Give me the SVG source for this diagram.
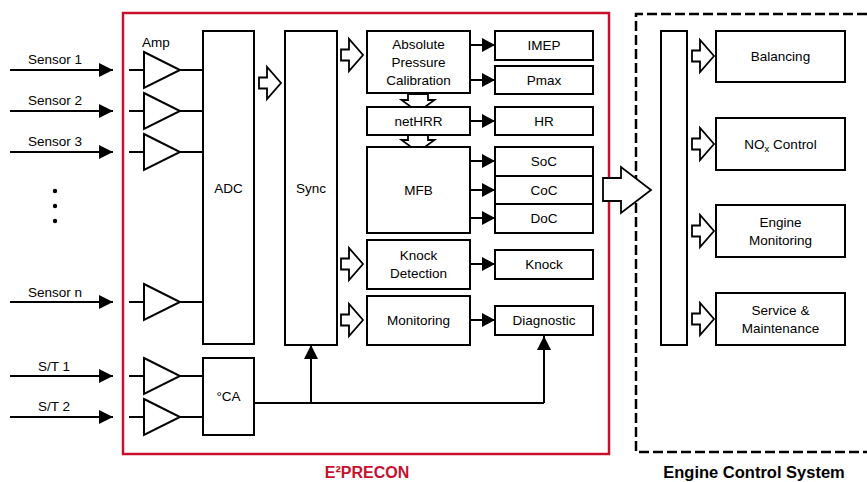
<svg xmlns="http://www.w3.org/2000/svg" width="867" height="482" viewBox="0 0 867 482">
<style>
text{font-family:"Liberation Sans",Arial,sans-serif;font-size:13.5px;fill:#000;text-anchor:middle}
.b{fill:#fff;stroke:#000;stroke-width:2}
.l{fill:none;stroke:#000;stroke-width:2}
.h{fill:#fff;stroke:#000;stroke-width:1.8;stroke-linejoin:miter}
.t{font-weight:bold;font-size:16.5px}
</style>
<defs>
<marker id="ah" viewBox="0 0 14 14" markerWidth="14" markerHeight="14" refX="14" refY="7" markerUnits="userSpaceOnUse" orient="auto"><path d="M0,0 L14,7 L0,14 Z" fill="#000"/></marker>
<marker id="as" viewBox="0 0 13 14" markerWidth="13" markerHeight="14" refX="13" refY="7" markerUnits="userSpaceOnUse" orient="auto"><path d="M0,0 L13,7 L0,14 Z" fill="#000"/></marker>
<path id="hr" d="M0,-5.5 H8 V-16 L22,0 L8,16 V5.5 H0 Z"/>
<path id="hd" d="M-10,0 V6 H-16.5 L0,18 L16.5,6 H10 V0 Z"/>
<path id="amp" d="M144,-18 L180,0 L144,18 Z"/>
</defs>

<!-- frames -->
<rect id="e2precon" x="123" y="13" width="486" height="441" fill="none" stroke="#c8102e" stroke-width="2.5"/>
<path id="ecs" d="M867,14 H636 V452 H867" fill="none" stroke="#000" stroke-width="2.5" stroke-dasharray="10,4"/>
<text x="367" y="478" class="t" style="fill:#c8102e;font-size:16px">E²PRECON</text>
<text x="754" y="478" class="t">Engine Control System</text>

<!-- connectors -->
<g id="connectors">
<g class="l">
<line x1="10" y1="70" x2="113" y2="70" marker-end="url(#ah)"/>
<line x1="10" y1="111" x2="113" y2="111" marker-end="url(#ah)"/>
<line x1="10" y1="152" x2="113" y2="152" marker-end="url(#ah)"/>
<line x1="10" y1="302" x2="113" y2="302" marker-end="url(#ah)"/>
<line x1="10" y1="376" x2="113" y2="376" marker-end="url(#ah)"/>
<line x1="10" y1="417" x2="113" y2="417" marker-end="url(#ah)"/>
<path d="M129,70 H144 M180,70 H203 M129,111 H144 M180,111 H203 M129,152 H144 M180,152 H203 M129,302 H144 M180,302 H203 M129,376 H144 M180,376 H203 M129,417 H144 M180,417 H203"/>
<path d="M254,403 H544"/>
<line x1="311" y1="403" x2="311" y2="345" marker-end="url(#ah)"/>
<line x1="544" y1="403" x2="544" y2="336" marker-end="url(#ah)"/>
<line x1="470" y1="45" x2="495" y2="45" marker-end="url(#as)"/>
<line x1="470" y1="80" x2="495" y2="80" marker-end="url(#as)"/>
<line x1="470" y1="121" x2="495" y2="121" marker-end="url(#as)"/>
<line x1="470" y1="161" x2="495" y2="161" marker-end="url(#as)"/>
<line x1="470" y1="190" x2="495" y2="190" marker-end="url(#as)"/>
<line x1="470" y1="218" x2="495" y2="218" marker-end="url(#as)"/>
<line x1="470" y1="264" x2="495" y2="264" marker-end="url(#as)"/>
<line x1="470" y1="320" x2="495" y2="320" marker-end="url(#as)"/>
</g>
<g class="h">
<use href="#hr" x="259" y="83"/>
<use href="#hr" x="341" y="55"/>
<use href="#hr" x="341" y="264"/>
<use href="#hr" x="341" y="320"/>
<use href="#hd" x="418" y="94"/>
<use href="#hd" x="418" y="134"/>
<path d="M603,178 H621 V167 L651,190 L621,213 V201 H603 Z"/>
<use href="#hr" x="692" y="56"/>
<use href="#hr" x="692" y="144"/>
<use href="#hr" x="692" y="231"/>
<use href="#hr" x="692" y="319"/>
</g>
</g>

<!-- sensor labels -->
<g id="inputs">
<text x="55" y="64">Sensor 1</text>
<text x="55" y="105">Sensor 2</text>
<text x="55" y="146">Sensor 3</text>
<circle cx="55" cy="191" r="2.2"/>
<circle cx="55" cy="206" r="2.2"/>
<circle cx="55" cy="221" r="2.2"/>
<text x="55" y="297">Sensor n</text>
<text x="54" y="371">S/T 1</text>
<text x="54" y="411">S/T 2</text>
</g>

<g id="amps" class="b">
<use href="#amp" y="70"/>
<use href="#amp" y="111"/>
<use href="#amp" y="152"/>
<use href="#amp" y="302"/>
<use href="#amp" y="376"/>
<use href="#amp" y="417"/>
</g>
<text x="156" y="47">Amp</text>

<g id="adc"><rect class="b" x="203" y="31" width="51" height="313"/><text x="228.5" y="193">ADC</text></g>
<g id="ca"><rect class="b" x="203" y="358" width="51" height="77"/><text x="228.5" y="401">°CA</text></g>
<g id="sync"><rect class="b" x="285" y="31" width="52" height="314"/><text x="311" y="193">Sync</text></g>

<g id="apc"><rect class="b" x="367" y="31" width="103" height="62"/><text x="418.5" y="49">Absolute</text><text x="418.5" y="67">Pressure</text><text x="418.5" y="85">Calibration</text></g>
<g id="nethrr"><rect class="b" x="367" y="107" width="103" height="28"/><text x="418.5" y="126">netHRR</text></g>
<g id="mfb"><rect class="b" x="367" y="147" width="103" height="86"/><text x="418.5" y="195">MFB</text></g>
<g id="knockdet"><rect class="b" x="367" y="240" width="103" height="49"/><text x="418.5" y="260">Knock</text><text x="418.5" y="278">Detection</text></g>
<g id="monitoring"><rect class="b" x="367" y="296" width="103" height="49"/><text x="418.5" y="325">Monitoring</text></g>

<g id="imep"><rect class="b" x="495" y="31" width="98" height="29"/><text x="544" y="50">IMEP</text></g>
<g id="pmax"><rect class="b" x="495" y="66" width="98" height="28"/><text x="544" y="85">Pmax</text></g>
<g id="hr"><rect class="b" x="495" y="107" width="98" height="28"/><text x="544" y="126">HR</text></g>
<g id="soc"><rect class="b" x="495" y="147" width="98" height="29"/><text x="544" y="166">SoC</text></g>
<g id="coc"><rect class="b" x="495" y="176" width="98" height="28"/><text x="544" y="195">CoC</text></g>
<g id="doc"><rect class="b" x="495" y="204" width="98" height="29"/><text x="544" y="223">DoC</text></g>
<g id="knock"><rect class="b" x="495" y="250" width="98" height="29"/><text x="544" y="269">Knock</text></g>
<g id="diagnostic"><rect class="b" x="495" y="306" width="98" height="29"/><text x="544" y="325">Diagnostic</text></g>

<g id="ecsbar"><rect class="b" x="661" y="31" width="26" height="314"/></g>
<g id="balancing"><rect class="b" x="716" y="31" width="129" height="51"/><text x="780.5" y="61">Balancing</text></g>
<g id="nox"><rect class="b" x="716" y="118" width="129" height="52"/><text x="780.5" y="149">NO<tspan font-size="9.5" dy="3">x</tspan><tspan dy="-3"> Control</tspan></text></g>
<g id="enginemon"><rect class="b" x="716" y="205" width="129" height="52"/><text x="780.5" y="227">Engine</text><text x="780.5" y="245">Monitoring</text></g>
<g id="service"><rect class="b" x="716" y="293" width="129" height="52"/><text x="780.5" y="315">Service &amp;</text><text x="780.5" y="333">Maintenance</text></g>
</svg>
